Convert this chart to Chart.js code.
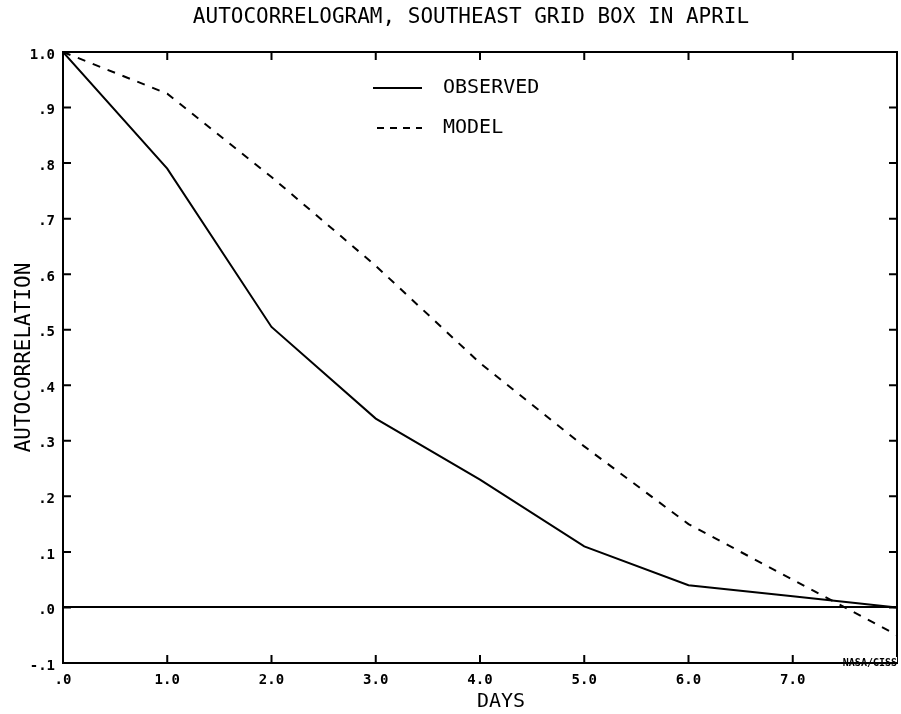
<!DOCTYPE html>
<html><head><meta charset="utf-8">
<script src="https://cdn.jsdelivr.net/npm/chart.js@4"></script>
<style>html,body{margin:0;padding:0;background:#fff}#wrap{width:901px;height:714px}</style>
</head><body><div id="wrap"><canvas id="c" width="901" height="714"></canvas></div>
<script>
// ---- data ----
const days = [0, 1, 2, 3, 4, 5, 6, 7, 8];
const observed = [1.0, 0.79, 0.505, 0.34, 0.23, 0.11, 0.04, 0.02, 0.0];
const model = [1.0, 0.925, 0.775, 0.615, 0.44, 0.29, 0.15, 0.05, -0.05];
const xTickValues = [0, 1, 2, 3, 4, 5, 6, 7];
const yTickValues = [-0.1, 0, 0.1, 0.2, 0.3, 0.4, 0.5, 0.6, 0.7, 0.8, 0.9, 1.0];
const seriesNames = ['OBSERVED', 'MODEL'];
const chartTitle = 'AUTOCORRELOGRAM, SOUTHEAST GRID BOX IN APRIL';
const xTitle = 'DAYS';
const yTitle = 'AUTOCORRELATION';
const creditText = 'NASA/GISS';

const MONO = "'DejaVu Sans Mono', 'Liberation Mono', monospace";

function fmt(v) {
  let s = Number(v).toFixed(1);
  if (s.startsWith('0.')) s = s.slice(1);
  else if (s.startsWith('-0.')) s = '-' + s.slice(2);
  return s;
}

const frame = {
  id: 'frame',
  afterDatasetsDraw(chart) {
    const {ctx, chartArea: a, scales} = chart;
    ctx.save();
    ctx.strokeStyle = '#000';
    ctx.lineWidth = 2;
    ctx.strokeRect(a.left, a.top, a.right - a.left, a.bottom - a.top);
    const L = 8;
    ctx.beginPath();
    xTickValues.forEach(v => {
      const x = scales.x.getPixelForValue(v);
      ctx.moveTo(x, a.bottom); ctx.lineTo(x, a.bottom - L);
      ctx.moveTo(x, a.top); ctx.lineTo(x, a.top + L);
    });
    yTickValues.forEach(v => {
      const y = scales.y.getPixelForValue(v);
      ctx.moveTo(a.left, y); ctx.lineTo(a.left + L, y);
      ctx.moveTo(a.right, y); ctx.lineTo(a.right - L, y);
    });
    ctx.stroke();

    // legend inside plot
    chart.data.datasets.forEach((ds, i) => {
      const y = a.top + 36 + i * 40;
      const x0 = a.left + 310;
      ctx.save();
      ctx.strokeStyle = ds.borderColor;
      ctx.lineWidth = 2;
      ctx.setLineDash(ds.borderDash ? [7, 6] : []);
      ctx.beginPath();
      ctx.moveTo(x0 + (ds.borderDash ? 4 : 0), y); ctx.lineTo(x0 + 49, y);
      ctx.stroke();
      ctx.restore();
      ctx.fillStyle = '#000';
      ctx.font = '20px ' + MONO;
      ctx.textBaseline = 'middle';
      ctx.textAlign = 'left';
      ctx.fillText(ds.label, x0 + 70, y);
    });

    // credit
    ctx.font = 'bold 10px ' + MONO;
    const w = ctx.measureText(creditText).width;
    ctx.fillStyle = '#fff';
    ctx.fillRect(a.right - w - 2, a.bottom - 6, w + 2, 5);
    ctx.fillStyle = '#000';
    ctx.textAlign = 'right';
    ctx.textBaseline = 'alphabetic';
    ctx.fillText(creditText, a.right, a.bottom + 3);

    // chart title
    ctx.font = '21px ' + MONO;
    ctx.textAlign = 'center';
    ctx.textBaseline = 'middle';
    ctx.fillText(chartTitle, 471, 18);

    // x-axis title
    ctx.font = '20px ' + MONO;
    ctx.fillText(xTitle, (a.left + a.right) / 2 + 21, 702);
    ctx.restore();
  }
};

new Chart(document.getElementById('c'), {
  type: 'line',
  data: {
    datasets: [
      {
        label: seriesNames[0],
        data: days.map((d, i) => ({x: d, y: observed[i]})),
        borderColor: '#000', borderWidth: 2, pointRadius: 0, tension: 0, fill: false
      },
      {
        label: seriesNames[1],
        data: days.map((d, i) => ({x: d, y: model[i]})),
        borderColor: '#000', borderWidth: 2, borderDash: [8, 8], pointRadius: 0, tension: 0, fill: false
      }
    ]
  },
  options: {
    responsive: false,
    animation: false,
    devicePixelRatio: 1,
    layout: {padding: {top: 52, right: 4, left: 0, bottom: 0}},
    plugins: {
      legend: {display: false},
      tooltip: {enabled: false},
      title: {display: false}
    },
    scales: {
      x: {
        type: 'linear', min: 0, max: 8,
        afterBuildTicks: s => { s.ticks = xTickValues.map(v => ({value: v})); },
        afterFit: s => { s.height = 51; },
        ticks: {
          callback: v => fmt(v), color: '#000', padding: 9, maxRotation: 0, autoSkip: false,
          font: {family: MONO, size: 14, weight: 'bold'}
        },
        grid: {display: false, drawTicks: false},
        border: {display: false}
      },
      y: {
        type: 'linear', min: -0.1, max: 1.0,
        afterBuildTicks: s => { s.ticks = yTickValues.map(v => ({value: v})); },
        afterFit: s => { s.width = 63; },
        ticks: {
          callback: v => fmt(v), color: '#000', padding: 8, autoSkip: false, labelOffset: 3,
          font: {family: MONO, size: 14, weight: 'bold'}
        },
        grid: {
          drawTicks: false,
          color: c => (c.tick && c.tick.value === 0) ? '#000' : 'rgba(0,0,0,0)',
          lineWidth: 2
        },
        border: {display: false},
        title: {
          display: true, text: yTitle, color: '#000',
          font: {family: MONO, size: 21, weight: 'normal', lineHeight: 1.2},
          padding: {top: 12, bottom: 0}
        }
      }
    }
  },
  plugins: [frame]
});
</script>
</body></html>
